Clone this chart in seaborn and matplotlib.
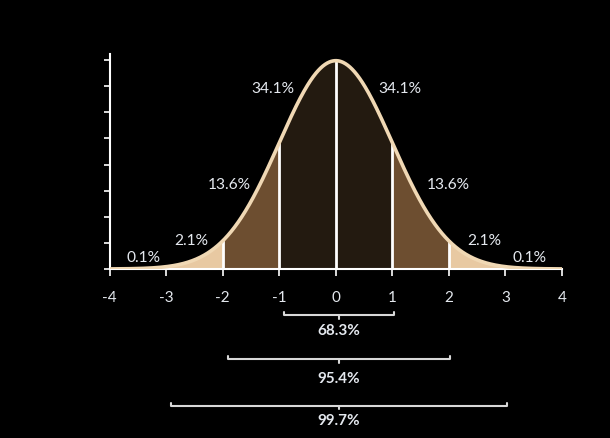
#!/usr/bin/env python3
"""Standard normal curve with shaded sigma bands (68-95-99.7 rule)."""

import numpy as np
import pandas as pd
import matplotlib.pyplot as plt
import seaborn as sns

# band edges (in standard deviations) and their fill colours
band_edges = [-4, -3, -2, -1, 0, 1, 2, 3, 4]
band_colors = ['#ebcda8', '#e8c9a2', '#6d4e30', '#231a10',
               '#231a10', '#6d4e30', '#e8c9a2', '#ebcda8']
divider_x = [-2, -1, 0, 1, 2]

# percentage labels on the curve
pct_labels = ['0.1%', '2.1%', '13.6%', '34.1%', '34.1%', '13.6%', '2.1%', '0.1%']
pct_x = [-3.41, -2.56, -1.89, -1.12, 1.13, 1.99, 2.62, 3.42]
pct_y = [0.022, 0.056, 0.163, 0.346, 0.346, 0.163, 0.056, 0.022]

# cumulative ranges below the axis
range_labels = ['68.3%', '95.4%', '99.7%']
range_half = [0.97, 1.97, 2.98]
range_y = [-0.088, -0.173, -0.262]
range_text_y = [-0.117, -0.208, -0.290]

x_ticks = [-4, -3, -2, -1, 0, 1, 2, 3, 4]
y_ticks = [0, 0.05, 0.1, 0.15, 0.2, 0.25, 0.3, 0.35, 0.4]

TEXT = '#e4e8ee'
CURVE = '#f0d8b4'


def pdf(x):
    return np.exp(-x ** 2 / 2) / np.sqrt(2 * np.pi)


def main():
    sns.set_style('dark', {'axes.facecolor': 'black', 'figure.facecolor': 'black'})
    plt.rcParams['font.family'] = ['Lato', 'DejaVu Sans']

    fig = plt.figure(figsize=(6.1, 4.39), dpi=100)
    ax = fig.add_axes([0.180, 0.385, 0.741, 0.490])

    xs = np.linspace(-4, 4, 801)
    curve = pd.DataFrame({'x': xs, 'y': pdf(xs)})

    for lo, hi, c in zip(band_edges[:-1], band_edges[1:], band_colors):
        seg = curve[(curve.x >= lo) & (curve.x <= hi)]
        ax.fill_between(seg.x, 0, seg.y, color=c, linewidth=0)

    for d in divider_x:
        ax.plot([d, d], [0, pdf(d)], color='white', lw=2, zorder=3)

    sns.lineplot(data=curve, x='x', y='y', ax=ax, color=CURVE, lw=2.6, zorder=4)

    for lab, px, py in zip(pct_labels, pct_x, pct_y):
        ax.text(px, py, lab, color=TEXT, fontsize=11.2, ha='center', va='center')

    cx = 0.055
    for lab, h, yb, yt in zip(range_labels, range_half, range_y, range_text_y):
        ax.plot([cx - h, cx - h, cx + h, cx + h], [yb + 0.006, yb, yb, yb + 0.006],
                color='#d8d8d8', lw=1.5, clip_on=False)
        ax.plot([cx, cx], [yb, yb - 0.007], color='#d8d8d8', lw=1.5, clip_on=False)
        ax.text(cx, yt, lab, color=TEXT, fontsize=11, fontweight='bold',
                ha='center', va='center', clip_on=False)

    ax.set_xlim(-4, 4)
    ax.set_ylim(0, 0.412)
    ax.set_xticks(x_ticks)
    ax.set_xticklabels([str(t) for t in x_ticks])
    ax.set_yticks(y_ticks)
    ax.set_yticklabels([])
    ax.set_xlabel('')
    ax.set_ylabel('')
    ax.grid(False)

    for side in ['top', 'right']:
        ax.spines[side].set_visible(False)
    for side in ['left', 'bottom']:
        ax.spines[side].set_visible(True)
        ax.spines[side].set_color('white')
        ax.spines[side].set_linewidth(1.5)

    ax.tick_params(axis='x', direction='out', length=5, width=1.2, colors='white',
                   labelcolor=TEXT, labelsize=11, pad=10, bottom=True)
    ax.tick_params(axis='y', direction='out', length=4, width=1.2, colors='white',
                   left=True)

    fig.savefig('out.png', dpi=100, facecolor='black')
    plt.close(fig)


if __name__ == '__main__':
    main()
